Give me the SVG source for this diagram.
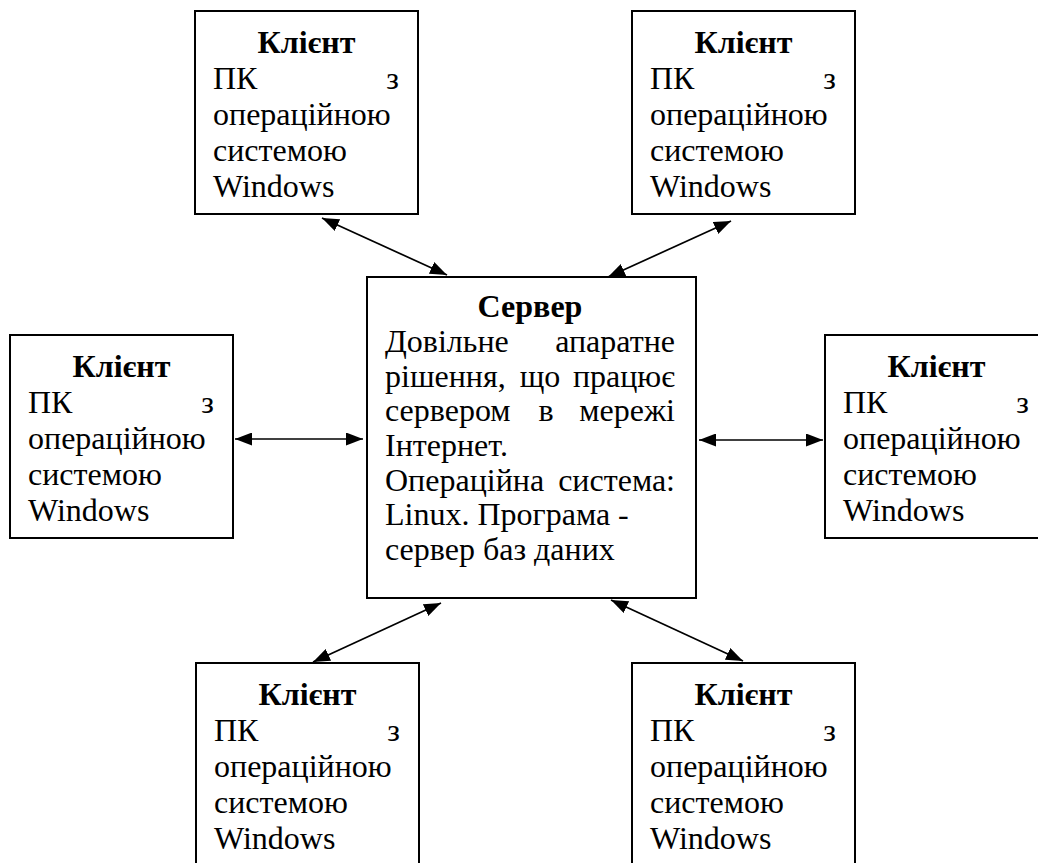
<svg xmlns="http://www.w3.org/2000/svg" width="1038" height="863" viewBox="0 0 1038 863">
<style>
text{font-family:"Liberation Serif","Tinos","DejaVu Serif",serif;font-size:32px;fill:#000}
.b{font-weight:bold}
.m{text-anchor:middle}
.e{text-anchor:end}
.box{fill:#fff;stroke:#000;stroke-width:2}
.c{stroke:#000;stroke-width:1.7;fill:none;marker-start:url(#ah);marker-end:url(#ah)}
</style>
<defs>
<marker id="ah" markerUnits="userSpaceOnUse" viewBox="0 0 17 13" refX="17" refY="6.5" markerWidth="17" markerHeight="13" orient="auto-start-reverse">
<path d="M0,0 L17,6.5 L0,13 Z" fill="#000"/>
</marker>
</defs>
<rect width="1038" height="863" fill="#fff"/>
<g id="connectors">
<line class="c" x1="322" y1="218" x2="447" y2="275"/>
<line class="c" x1="731" y1="221" x2="608" y2="277"/>
<line class="c" x1="235" y1="439" x2="363" y2="439"/>
<line class="c" x1="699" y1="440" x2="823" y2="440"/>
<line class="c" x1="441" y1="603" x2="313" y2="662"/>
<line class="c" x1="611" y1="600" x2="743" y2="661"/>
</g>
<g id="server">
<rect class="box" x="367" y="277" width="329" height="321"/>
<text class="b m" x="530" y="317">Сервер</text>
<text x="385" y="352">Довільне</text><text class="e" x="675" y="352">апаратне</text>
<text x="385" y="387">рішення,</text><text class="m" x="540" y="387">що</text><text class="e" x="675" y="387">працює</text>
<text x="385" y="421">сервером</text><text class="m" x="546" y="421">в</text><text class="e" x="675" y="421">мережі</text>
<text x="385" y="456">Інтернет.</text>
<text x="385" y="491">Операційна</text><text class="e" x="675" y="491">система:</text>
<text x="385" y="525">Linux. Програма -</text>
<text x="385" y="560">сервер баз даних</text>
</g>
<g id="client-top-left" transform="translate(195,11)">
<rect class="box" width="223" height="203"/>
<text class="b m" x="111.5" y="42">Клієнт</text>
<text x="18" y="78">ПК</text><text class="e" x="204" y="78">з</text>
<text x="18" y="114">операційною</text>
<text x="18" y="150">системою</text>
<text x="18" y="186">Windows</text>
</g>
<g id="client-top-right" transform="translate(632,11)">
<rect class="box" width="223" height="203"/>
<text class="b m" x="111.5" y="42">Клієнт</text>
<text x="18" y="78">ПК</text><text class="e" x="204" y="78">з</text>
<text x="18" y="114">операційною</text>
<text x="18" y="150">системою</text>
<text x="18" y="186">Windows</text>
</g>
<g id="client-left" transform="translate(10,335)">
<rect class="box" width="223" height="203"/>
<text class="b m" x="111.5" y="42">Клієнт</text>
<text x="18" y="78">ПК</text><text class="e" x="204" y="78">з</text>
<text x="18" y="114">операційною</text>
<text x="18" y="150">системою</text>
<text x="18" y="186">Windows</text>
</g>
<g id="client-right" transform="translate(825,335)">
<rect class="box" width="223" height="203"/>
<text class="b m" x="111.5" y="42">Клієнт</text>
<text x="18" y="78">ПК</text><text class="e" x="204" y="78">з</text>
<text x="18" y="114">операційною</text>
<text x="18" y="150">системою</text>
<text x="18" y="186">Windows</text>
</g>
<g id="client-bottom-left" transform="translate(196,663)">
<rect class="box" width="223" height="203"/>
<text class="b m" x="111.5" y="42">Клієнт</text>
<text x="18" y="78">ПК</text><text class="e" x="204" y="78">з</text>
<text x="18" y="114">операційною</text>
<text x="18" y="150">системою</text>
<text x="18" y="186">Windows</text>
</g>
<g id="client-bottom-right" transform="translate(632,663)">
<rect class="box" width="223" height="203"/>
<text class="b m" x="111.5" y="42">Клієнт</text>
<text x="18" y="78">ПК</text><text class="e" x="204" y="78">з</text>
<text x="18" y="114">операційною</text>
<text x="18" y="150">системою</text>
<text x="18" y="186">Windows</text>
</g>
</svg>
